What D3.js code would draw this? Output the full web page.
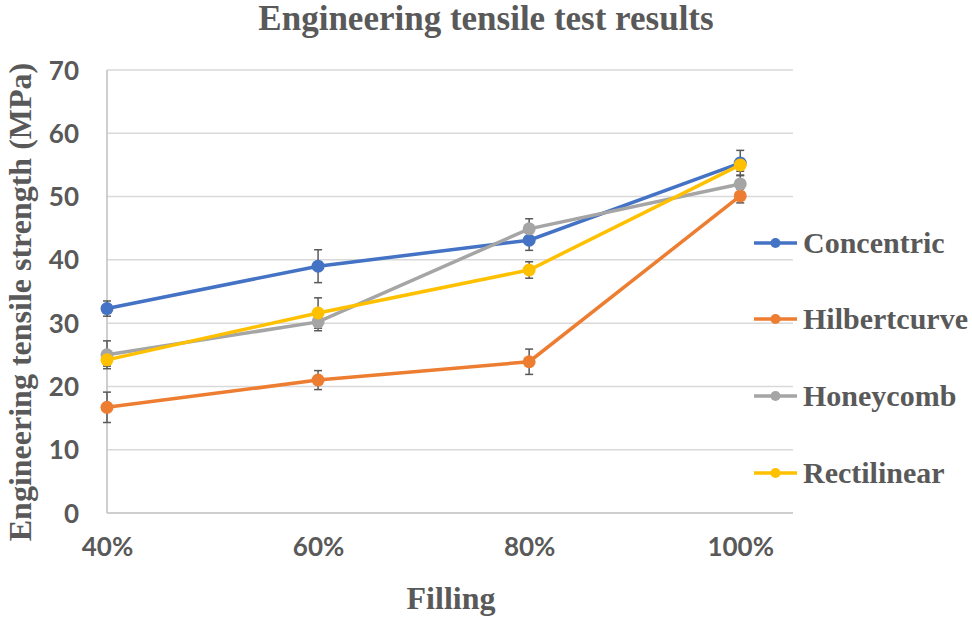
<!DOCTYPE html>
<meta charset='utf-8'>
<head>
    <title>Engineering tensile test results</title>
    <script src='https://cdnjs.cloudflare.com/ajax/libs/d3/7.8.5/d3.min.js'></script>
</head>

<style>
    body { margin: 0; background: white; }
    .grid line { stroke: #d9d9d9; stroke-width: 1.5px; }
    .tick text { font-family: Lato, sans-serif; font-weight: bold; font-size: 26px; fill: #595959; }
    .ttl { font-family: 'Liberation Serif', serif; font-weight: bold; fill: #595959; }
    .line { fill: none; stroke-width: 3.5px; }
    .err { stroke: #595959; stroke-width: 1.5px; }
</style>

<svg width='972' height='619'></svg>

<script>
    var filling = [40, 60, 80, 100];
    var seriesNames = ['Concentric', 'Hilbertcurve', 'Honeycomb', 'Rectilinear'];
    var concentric = [32.3, 39.0, 43.1, 55.3];
    var hilbert = [16.7, 21.0, 23.9, 50.1];
    var honeycomb = [25.0, 30.2, 44.9, 52.0];
    var rectilinear = [24.2, 31.6, 38.4, 55.0];
    var concentricErr = [1.2, 2.6, 1.6, 2.0];
    var hilbertErr = [2.4, 1.5, 2.0, 1.1];
    var honeycombErr = [2.2, 1.4, 1.6, 1.4];
    var rectilinearErr = [1.0, 2.4, 1.3, 1.0];
    var yTicks = [0, 10, 20, 30, 40, 50, 60, 70];
    var colors = ['#4472C4', '#ED7D31', '#A5A5A5', '#FFC000'];

    var series = [concentric, hilbert, honeycomb, rectilinear].map(function (vals, i) {
        var errs = [concentricErr, hilbertErr, honeycombErr, rectilinearErr][i];
        return {
            name: seriesNames[i], color: colors[i],
            points: vals.map(function (v, j) { return {x: filling[j], y: v, e: errs[j]}; })
        };
    });

    var svg = d3.select('svg');
    var x = d3.scaleLinear().domain([40, 105]).range([107, 793]);
    var y = d3.scaleLinear().domain([0, 70]).range([513, 70]);

    // gridlines
    svg.append('g').attr('class', 'grid').selectAll('line').data(yTicks.slice(1)).enter().append('line')
        .attr('x1', x(40)).attr('x2', x(105))
        .attr('y1', function (d) { return y(d); }).attr('y2', function (d) { return y(d); });

    // axis lines
    svg.append('line').attr('x1', x(40)).attr('x2', x(105)).attr('y1', y(0)).attr('y2', y(0))
        .attr('stroke', '#bfbfbf').attr('stroke-width', 1.5);
    svg.append('line').attr('x1', x(40)).attr('x2', x(40)).attr('y1', y(0)).attr('y2', y(70))
        .attr('stroke', '#bfbfbf').attr('stroke-width', 1.5);

    // y ticks
    var yAxis = svg.append('g').attr('transform', 'translate(' + 79 + ',0)')
        .call(d3.axisLeft(y).tickValues(yTicks).tickSize(0).tickPadding(0));
    yAxis.select('.domain').remove();
    yAxis.selectAll('text').attr('dy', '0.35em');

    // x ticks
    var xAxis = svg.append('g').attr('transform', 'translate(0,' + 538 + ')')
        .call(d3.axisBottom(x).tickValues(filling).tickSize(0).tickPadding(0)
            .tickFormat(function (d) { return d + '%'; }));
    xAxis.select('.domain').remove();
    xAxis.selectAll('text').attr('dy', '0.71em');

    // error bars
    series.forEach(function (s) {
        var g = svg.append('g');
        s.points.forEach(function (p) {
            var cx = x(p.x);
            g.append('line').attr('class', 'err').attr('x1', cx).attr('x2', cx)
                .attr('y1', y(p.y - p.e)).attr('y2', y(p.y + p.e));
            [p.y - p.e, p.y + p.e].forEach(function (v) {
                g.append('line').attr('class', 'err').attr('x1', cx - 4).attr('x2', cx + 4)
                    .attr('y1', y(v)).attr('y2', y(v));
            });
        });
    });

    // lines and markers
    var line = d3.line().x(function (d) { return x(d.x); }).y(function (d) { return y(d.y); });
    series.forEach(function (s) {
        svg.append('path').attr('class', 'line').attr('stroke', s.color).attr('d', line(s.points));
        svg.append('g').selectAll('circle').data(s.points).enter().append('circle')
            .attr('cx', function (d) { return x(d.x); }).attr('cy', function (d) { return y(d.y); })
            .attr('r', 6.5).attr('fill', s.color);
    });

    // legend
    var legendY = [243, 319, 396, 473];
    var lg = svg.append('g').selectAll('g').data(series).enter().append('g')
        .attr('transform', function (d, i) { return 'translate(754,' + legendY[i] + ')'; });
    lg.append('line').attr('x1', 0).attr('x2', 43).attr('stroke', function (d) { return d.color; })
        .attr('stroke-width', 3.5);
    lg.append('circle').attr('cx', 21.5).attr('r', 5).attr('fill', function (d) { return d.color; });
    lg.append('text').attr('class', 'ttl').attr('x', 49).attr('dy', '0.33em')
        .style('font-size', '30px').text(function (d) { return d.name; });

    // titles
    svg.append('text').attr('class', 'ttl').attr('x', 486).attr('y', 30).attr('text-anchor', 'middle')
        .style('font-size', '35px').text('Engineering tensile test results');
    svg.append('text').attr('class', 'ttl').attr('x', 451).attr('y', 609).attr('text-anchor', 'middle')
        .style('font-size', '32px').text('Filling');
    svg.append('text').attr('class', 'ttl').attr('transform', 'translate(31,302) rotate(-90)')
        .attr('text-anchor', 'middle').style('font-size', '32px').text('Engineering tensile strength (MPa)');
</script>
